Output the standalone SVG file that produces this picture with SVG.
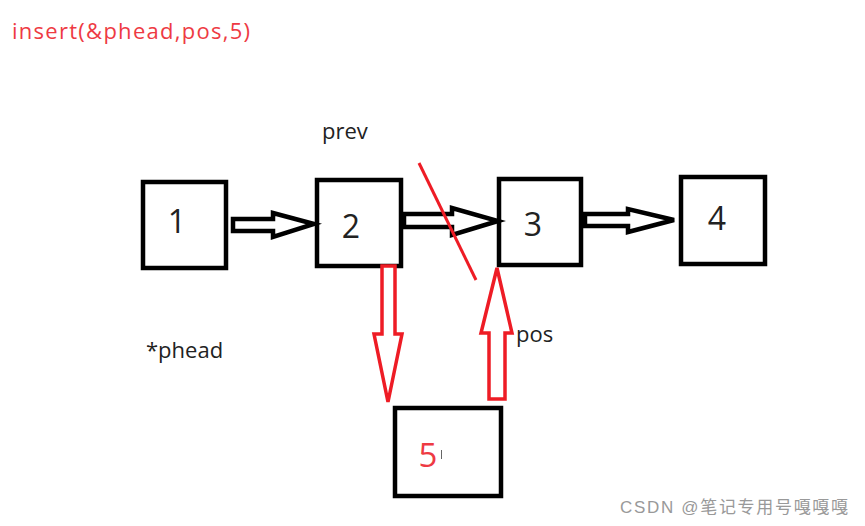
<svg xmlns="http://www.w3.org/2000/svg" width="865" height="526" viewBox="0 0 865 526">
<style>
.box{fill:#fff;stroke:#000;stroke-width:4.5}
.barr{fill:#fff;stroke:#000;stroke-width:4.5;stroke-linejoin:miter}
.rarr{fill:#fff;stroke:#ee1c25;stroke-width:3.5;stroke-linejoin:miter}
.num{font-family:"Open Sans","Noto Sans",sans-serif;font-size:32px;fill:#222;text-anchor:middle}
.lbl{font-family:"Open Sans","Noto Sans",sans-serif;font-size:22px;fill:#222}
</style>
<rect width="865" height="526" fill="#fff"/>
<text x="12" y="39" font-family="Open Sans, Noto Sans, sans-serif" font-size="22" fill="#ee3a43" textLength="238">insert(&amp;phead,pos,5)</text>
<text class="lbl" x="322" y="139">prev</text>
<text class="lbl" x="146" y="358">*phead</text>
<text class="lbl" x="516" y="342">pos</text>
<g id="node1"><rect class="box" x="143" y="182" width="83" height="86"/><text class="num" x="177" y="233">1</text></g>
<g id="node2"><rect class="box" x="317" y="180" width="84" height="86"/><text class="num" x="351" y="238">2</text></g>
<g id="node3"><rect class="box" x="499" y="179" width="82" height="86"/><text class="num" x="533" y="236">3</text></g>
<g id="node4"><rect class="box" x="681" y="177" width="84" height="87"/><text class="num" x="717" y="230">4</text></g>
<g id="node5"><rect class="box" x="395" y="408" width="106" height="88"/><text x="428" y="467" font-family="Open Sans, Noto Sans, sans-serif" font-size="33" fill="#ee3a43" text-anchor="middle">5</text><line x1="441.5" y1="450" x2="441.5" y2="459" stroke="#666" stroke-width="1"/></g>
<g id="connectors">
<path class="barr" d="M233,219 L273,219 L273,213 L314,224 L273,237 L273,231 L233,231 Z"/>
<path class="barr" d="M404,214 L452,214 L452,208 L498,221 L452,235 L452,227 L404,227 Z"/>
<path class="barr" d="M585,214 L628,214 L628,209 L674,220 L628,232 L628,226 L585,226 Z"/>
<path class="rarr" d="M382,266 L395,266 L395,334 L402,334 L388,402 L374,334 L382,334 Z"/>
<path class="rarr" d="M489,399 L505,399 L505,333 L512,333 L497,268 L481,333 L489,333 Z"/>
<line x1="419" y1="163" x2="476" y2="280" stroke="#ee1c25" stroke-width="3"/>
</g>
<text x="620" y="513" font-family="Liberation Sans, Noto Sans CJK SC, sans-serif" font-size="17" fill="#999" textLength="228">CSDN @笔记专用号嘎嘎嘎</text>
</svg>
